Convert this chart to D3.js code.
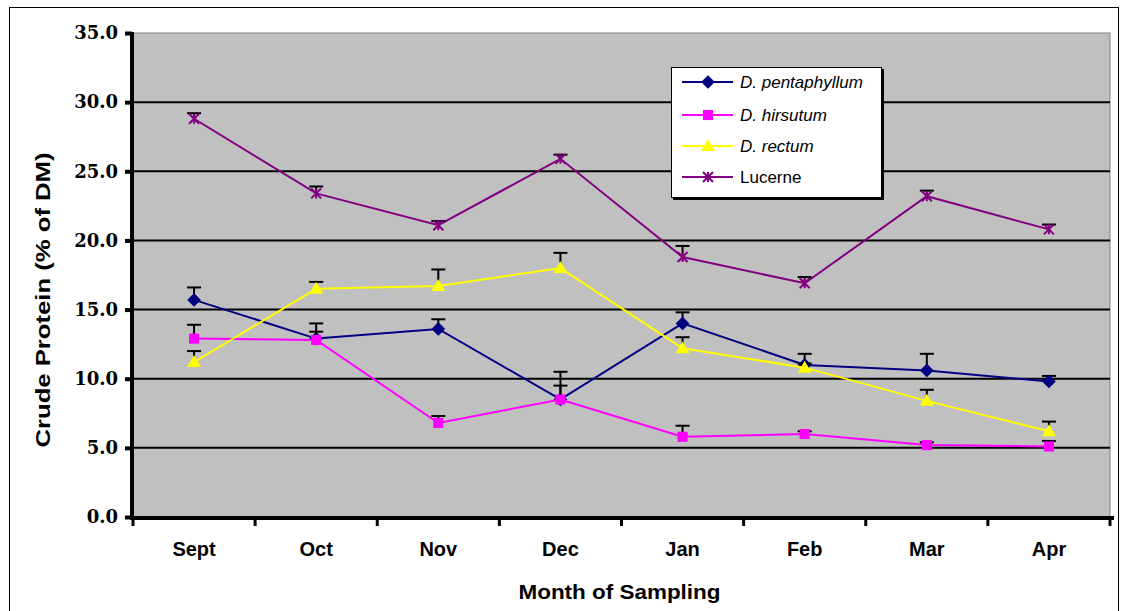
<!DOCTYPE html>
<html>
<head>
<meta charset="utf-8">
<script src="https://cdn.jsdelivr.net/npm/d3@7"></script>
<style>
  body { margin: 0; background: #fff; }
  svg { display: block; }
</style>
</head>
<body>
<div id="chart"></div>
<script>
// Data
const months = ["Sept", "Oct", "Nov", "Dec", "Jan", "Feb", "Mar", "Apr"];
const yTicks = [0, 5, 10, 15, 20, 25, 30, 35];

const pentaphyllum = [15.7, 12.9, 13.6, 8.5, 14.0, 11.0, 10.6, 9.8];
const pentaphyllumErr = [0.9, 1.1, 0.7, 2.0, 0.8, 0.8, 1.2, 0.4];
const hirsutum = [12.9, 12.8, 6.8, 8.5, 5.8, 6.0, 5.2, 5.1];
const hirsutumErr = [1.0, 0.6, 0.5, 1.0, 0.8, 0.2, 0.2, 0.4];
const rectum = [11.2, 16.5, 16.7, 18.0, 12.2, 10.8, 8.4, 6.2];
const rectumErr = [0.8, 0.5, 1.2, 1.1, 0.8, 0.3, 0.8, 0.7];
const lucerne = [28.8, 23.4, 21.1, 25.9, 18.8, 16.9, 23.2, 20.8];
const lucerneErr = [0.4, 0.5, 0.3, 0.3, 0.8, 0.45, 0.4, 0.35];

const series = [
  {name: "D. pentaphyllum", italic: true, values: pentaphyllum, err: pentaphyllumErr, color: "#000080", marker: "diamond"},
  {name: "D. hirsutum", italic: true, values: hirsutum, err: hirsutumErr, color: "#ff00ff", marker: "square"},
  {name: "D. rectum", italic: true, values: rectum, err: rectumErr, color: "#ffff00", marker: "triangle"},
  {name: "Lucerne", italic: false, values: lucerne, err: lucerneErr, color: "#800080", marker: "star"}
];

const W = 1126, H = 611;
const plot = {left: 133, right: 1110, top: 33, bottom: 517};

const svg = d3.select("#chart").append("svg")
  .attr("width", W)
  .attr("height", H);

// outer chart frame
svg.append("rect")
  .attr("x", 9.5).attr("y", 7.5)
  .attr("width", 1109).attr("height", 620)
  .attr("fill", "#fff")
  .attr("stroke", "#000")
  .attr("stroke-width", 1);

const x = d3.scaleBand()
  .domain(months)
  .range([plot.left, plot.right])
  .padding(0);
const cx = m => x(m) + x.bandwidth() / 2;

const y = d3.scaleLinear()
  .domain([0, 35])
  .range([plot.bottom, plot.top]);

// plot area
svg.append("rect")
  .attr("x", plot.left).attr("y", plot.top)
  .attr("width", plot.right - plot.left)
  .attr("height", plot.bottom - plot.top)
  .attr("fill", "#c0c0c0")
  .attr("stroke", "#808080")
  .attr("stroke-width", 1);

// gridlines
svg.append("g")
  .selectAll("line")
  .data(yTicks.filter(t => t > 0 && t < 35))
  .join("line")
  .attr("x1", plot.left).attr("x2", plot.right)
  .attr("y1", d => y(d)).attr("y2", d => y(d))
  .attr("stroke", "#000")
  .attr("stroke-width", 2);

// y axis
const yAxis = svg.append("g")
  .attr("transform", "translate(" + (plot.left - 1) + ",0)")
  .call(d3.axisLeft(y).tickValues(yTicks).tickFormat(d3.format(".1f")).tickSize(7).tickPadding(7));
yAxis.select(".domain").attr("stroke-width", 4).attr("d", "M0," + (plot.top - 1) + "V" + (plot.bottom + 2));
yAxis.selectAll(".tick line").attr("stroke-width", 4);
yAxis.selectAll(".tick text")
  .style("font-family", "'DejaVu Serif', serif")
  .style("font-weight", "bold")
  .style("font-size", "18px")
  .attr("fill", "#000");

// x axis
const xAxis = svg.append("g")
  .attr("transform", "translate(0," + (plot.bottom + 1) + ")")
  .call(d3.axisBottom(x).tickSize(0).tickPadding(24));
xAxis.select(".domain").attr("stroke-width", 4).attr("d", "M" + (plot.left - 3) + ",0H" + (plot.right + 4));
xAxis.selectAll(".tick text")
  .style("font-family", "Arial, 'Liberation Sans', sans-serif")
  .style("font-weight", "bold")
  .style("font-size", "20px")
  .attr("fill", "#000");
// category boundary ticks
xAxis.append("g")
  .selectAll("line")
  .data(months.map(m => x(m)).concat([plot.right]))
  .join("line")
  .attr("x1", d => d).attr("x2", d => d)
  .attr("y1", 0).attr("y2", 8)
  .attr("stroke", "#000")
  .attr("stroke-width", 3);

// axis titles
svg.append("text")
  .attr("x", (plot.left + plot.right) / 2 - 2)
  .attr("y", 599)
  .attr("text-anchor", "middle")
  .attr("textLength", 202)
  .attr("lengthAdjust", "spacingAndGlyphs")
  .style("font-family", "Arial, 'Liberation Sans', sans-serif")
  .style("font-weight", "bold")
  .style("font-size", "21px")
  .text("Month of Sampling");

svg.append("text")
  .attr("transform", "translate(50,300) rotate(-90)")
  .attr("text-anchor", "middle")
  .attr("textLength", 295)
  .attr("lengthAdjust", "spacingAndGlyphs")
  .style("font-family", "Arial, 'Liberation Sans', sans-serif")
  .style("font-weight", "bold")
  .style("font-size", "21px")
  .text("Crude Protein (% of DM)");

// marker shapes
function markerPath(type) {
  if (type === "diamond") return d3.symbol(d3.symbolDiamond2, 120)();
  if (type === "square") return d3.symbol(d3.symbolSquare2, 130)();
  if (type === "triangle") return "M0,-7L7,5H-7Z";
  return null;
}
function drawMarker(g, s, px, py) {
  if (s.marker === "star") {
    const r = 5;
    g.append("path")
      .attr("d", "M" + (px - r) + "," + (py - r) + "L" + (px + r) + "," + (py + r) +
                 "M" + (px + r) + "," + (py - r) + "L" + (px - r) + "," + (py + r) +
                 "M" + px + "," + (py - r) + "V" + (py + r))
      .attr("stroke", s.color)
      .attr("stroke-width", 2)
      .attr("fill", "none");
  } else {
    g.append("path")
      .attr("d", markerPath(s.marker))
      .attr("transform", "translate(" + px + "," + py + ")")
      .attr("fill", s.color);
  }
}

const line = d3.line()
  .x((d, i) => cx(months[i]))
  .y(d => y(d));

series.forEach(s => {
  const g = svg.append("g");
  g.append("path")
    .datum(s.values)
    .attr("d", line)
    .attr("fill", "none")
    .attr("stroke", s.color)
    .attr("stroke-width", 2);
  // error bars (plus direction)
  s.values.forEach((v, i) => {
    const px = cx(months[i]);
    g.append("line")
      .attr("x1", px).attr("x2", px)
      .attr("y1", y(v)).attr("y2", y(v + s.err[i]))
      .attr("stroke", "#000").attr("stroke-width", 2);
    g.append("line")
      .attr("x1", px - 7).attr("x2", px + 7)
      .attr("y1", y(v + s.err[i])).attr("y2", y(v + s.err[i]))
      .attr("stroke", "#000").attr("stroke-width", 2);
  });
  s.values.forEach((v, i) => drawMarker(g, s, cx(months[i]), y(v)));
});

// legend
const lg = svg.append("g");
lg.append("rect")
  .attr("x", 673).attr("y", 69)
  .attr("width", 211).attr("height", 131)
  .attr("fill", "#000");
lg.append("rect")
  .attr("x", 671.5).attr("y", 67.5)
  .attr("width", 210).attr("height", 130)
  .attr("fill", "#fff")
  .attr("stroke", "#000")
  .attr("stroke-width", 1);

const legendRows = [82, 115, 146, 177];
series.forEach((s, i) => {
  const ly = legendRows[i];
  lg.append("line")
    .attr("x1", 682).attr("x2", 733)
    .attr("y1", ly).attr("y2", ly)
    .attr("stroke", s.color)
    .attr("stroke-width", 2);
  drawMarker(lg, s, 708, ly);
  lg.append("text")
    .attr("x", 740)
    .attr("y", ly + 6)
    .style("font-family", "Arial, 'Liberation Sans', sans-serif")
    .style("font-size", "17px")
    .style("font-style", s.italic ? "italic" : "normal")
    .text(s.name);
});
</script>
</body>
</html>
